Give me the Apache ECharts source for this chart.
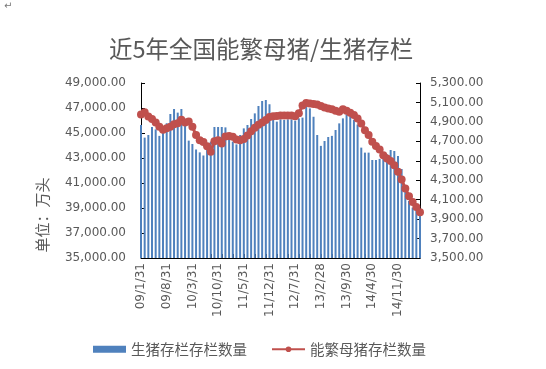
<!DOCTYPE html>
<html>
<head>
<meta charset="utf-8">
<script src="https://cdn.jsdelivr.net/npm/echarts@6/dist/echarts.min.js"></script>
<style>html,body{margin:0;padding:0;background:#fff;}#c{width:546px;height:369px;}</style>
</head>
<body>
<div id="c"></div>
<script>
var categories = [
 '09/1/31','09/2/28','09/3/31','09/4/30','09/5/31','09/6/30','09/7/31','09/8/31','09/9/30','09/10/31','09/11/30','09/12/31',
 '10/1/31','10/2/28','10/3/31','10/4/30','10/5/31','10/6/30','10/7/31','10/8/31','10/9/30','10/10/31','10/11/30','10/12/31',
 '11/1/31','11/2/28','11/3/31','11/4/30','11/5/31','11/6/30','11/7/31','11/8/31','11/9/30','11/10/31','11/11/30','11/12/31',
 '12/1/31','12/2/29','12/3/31','12/4/30','12/5/31','12/6/30','12/7/31','12/8/31','12/9/30','12/10/31','12/11/30','12/12/31',
 '13/1/31','13/2/28','13/3/31','13/4/30','13/5/31','13/6/30','13/7/31','13/8/31','13/9/30','13/10/31','13/11/30','13/12/31',
 '14/1/31','14/2/28','14/3/31','14/4/30','14/5/31','14/6/30','14/7/31','14/8/31','14/9/30','14/10/31','14/11/30','14/12/31',
 '15/1/31','15/2/28','15/3/31','15/4/30','15/5/31'
];
var hogStock = [
 45640,44630,44840,45480,45290,44770,45550,45780,46520,46920,46630,46920,
 45650,44390,44120,43680,43450,43200,44050,44300,45480,45480,45480,45450,
 44600,44310,44090,44840,45370,45640,46120,46570,47160,47560,47640,47300,
 46170,45910,46090,46040,46090,46090,45990,46170,46230,47100,46970,46300,
 44840,43970,44360,44680,44770,45240,45770,46170,46490,46570,46060,45680,
 43830,43430,43430,42840,42840,42930,43200,43300,43640,43560,43160,42120,
 40570,39560,39030,38840,38600
];
var sowStock = [
 4975,5000,4955,4930,4895,4850,4820,4835,4850,4875,4885,4922,
 4895,4905,4850,4764,4710,4692,4650,4592,4700,4712,4678,4750,
 4755,4746,4719,4712,4725,4760,4805,4840,4870,4895,4920,4950,
 4958,4960,4965,4965,4965,4965,4958,4990,5068,5094,5090,5085,
 5080,5064,5049,5039,5029,5014,5004,5029,5014,4994,4970,4936,
 4884,4815,4764,4695,4651,4616,4558,4524,4499,4455,4386,4308,
 4215,4136,4077,4025,3970
];
var titleText = '近5年全国能繁母猪/生猪存栏';
var seriesNames = ['生猪存栏存栏数量', '能繁母猪存栏数量'];
var yName = '单位：万头';

var chart = echarts.init(document.getElementById('c'), null, {renderer: 'canvas'});
var grey = '#595959';
var fmt = function (v) {
  return v.toLocaleString('en-US', {minimumFractionDigits: 2, maximumFractionDigits: 2});
};
chart.setOption({
  animation: false,
  backgroundColor: '#ffffff',
  title: {
    text: titleText, left: 104, top: 32,
    textStyle: {fontFamily: 'Noto Sans CJK SC', fontSize: 23.5, fontWeight: 'normal', color: grey}
  },
  graphic: [
    {type: 'text', left: 4, top: 1, style: {text: '\u21B5', fontSize: 10, fill: '#777', fontFamily: 'DejaVu Sans'}},
    {type: 'text', x: 42, y: 215, rotation: Math.PI / 2,
     style: {text: yName, fontSize: 15, fill: grey, fontFamily: 'Noto Sans CJK SC', align: 'center', verticalAlign: 'middle'}}
  ],
  legend: {
    left: 93, top: 342, padding: 0, itemGap: 24, itemWidth: 33, itemHeight: 7,
    textStyle: {fontFamily: 'Noto Sans CJK SC', fontSize: 14.5, color: grey},
    data: [
      {name: seriesNames[0], icon: 'rect'},
      {name: seriesNames[1]}
    ]
  },
  grid: {left: 141, right: 126, top: 83, bottom: 111, containLabel: false, outerBoundsMode: 'none'},
  xAxis: {
    type: 'category', data: categories, boundaryGap: false,
    axisLine: {lineStyle: {color: '#000', width: 1}},
    axisTick: {inside: true, length: 4, interval: 0, lineStyle: {color: '#000'}},
    axisLabel: {rotate: 90, interval: 6, margin: 5, fontFamily: 'DejaVu Sans', fontSize: 12, color: grey},
    splitLine: {show: false}
  },
  yAxis: [
    {
      type: 'value', min: 35000, max: 49000, interval: 2000, position: 'left',
      axisLine: {show: true, lineStyle: {color: '#000'}},
      axisTick: {show: true, inside: true, length: 4, lineStyle: {color: '#000'}},
      axisLabel: {formatter: fmt, margin: 15, fontFamily: 'DejaVu Sans', fontSize: 12, color: grey},
      splitLine: {show: false}
    },
    {
      type: 'value', min: 3500, max: 5300, interval: 200, position: 'right',
      axisLine: {show: true, lineStyle: {color: '#000'}},
      axisTick: {show: true, inside: true, length: 4, lineStyle: {color: '#000'}},
      axisLabel: {formatter: fmt, margin: 10, fontFamily: 'DejaVu Sans', fontSize: 12, color: grey},
      splitLine: {show: false}
    }
  ],
  series: [
    {
      name: seriesNames[0], type: 'bar', yAxisIndex: 0, data: hogStock,
      barWidth: 2, itemStyle: {color: '#4F81BD'}
    },
    {
      name: seriesNames[1], type: 'line', yAxisIndex: 1, data: sowStock,
      symbol: 'circle', symbolSize: 8, showSymbol: true, showAllSymbol: true,
      lineStyle: {color: '#C0504D', width: 3},
      itemStyle: {color: '#C0504D'}
    }
  ]
});
</script>
</body>
</html>
